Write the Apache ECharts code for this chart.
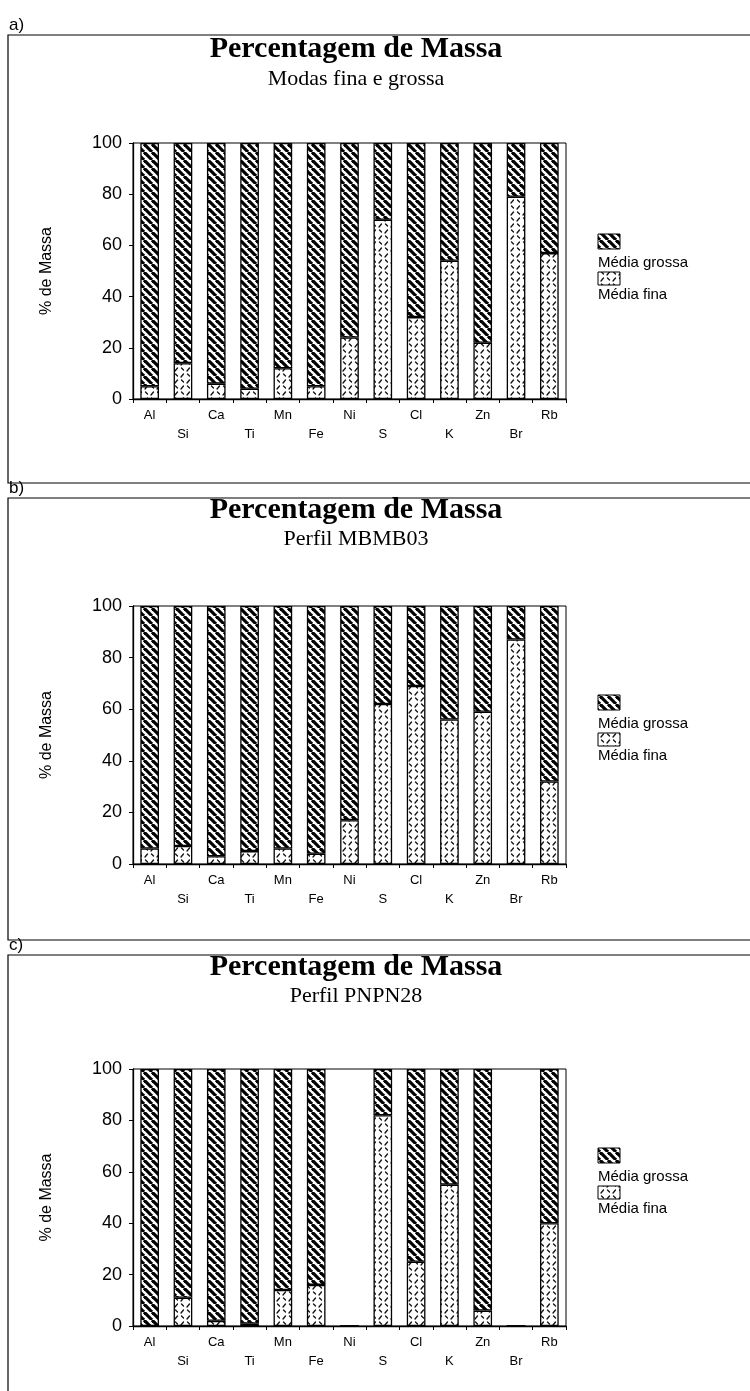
<!DOCTYPE html>
<html>
<head>
<meta charset="utf-8">
<script src="https://cdn.jsdelivr.net/npm/echarts@6/dist/echarts.min.js"></script>
<style>
  html, body { margin: 0; padding: 0; background: #fff; }
  #chart { width: 750px; height: 1391px; }
</style>
</head>
<body>
<div id="chart"></div>
<script>
// Elements on the x axis (same order in every panel)
const elements = ['Al', 'Si', 'Ca', 'Ti', 'Mn', 'Fe', 'Ni', 'S', 'Cl', 'K', 'Zn', 'Br', 'Rb'];
const yTicks = [0, 20, 40, 60, 80, 100];

// a) Modas fina e grossa — % of mass in each mode
const fineA   = [5, 14, 6, 4, 12, 5, 24, 70, 32, 54, 22, 79, 57];
const coarseA = [95, 86, 94, 96, 88, 95, 76, 30, 68, 46, 78, 21, 43];

// b) Perfil MBMB03
const fineB   = [6, 7, 3, 5, 6, 4, 17, 62, 69, 56, 59, 87, 32];
const coarseB = [94, 93, 97, 95, 94, 96, 83, 38, 31, 44, 41, 13, 68];

// c) Perfil PNPN28 (Ni and Br not measured)
const fineC   = [0, 11, 2, 1, 14, 16, 0, 82, 25, 55, 6, 0, 40];
const coarseC = [100, 89, 98, 99, 86, 84, 0, 18, 75, 45, 94, 0, 60];

const panelLetters = ['a)', 'b)', 'c)'];
const titleText = 'Percentagem de Massa';
const subtitles = ['Modas fina e grossa', 'Perfil MBMB03', 'Perfil PNPN28'];
const seriesNames = ['Média fina', 'Média grossa'];
const yAxisName = '% de Massa';

// ---- fill patterns ----
function stripeTile() {
  const s = 8;
  const c = document.createElement('canvas');
  c.width = s; c.height = s;
  const g = c.getContext('2d');
  g.fillStyle = '#fff'; g.fillRect(0, 0, s, s);
  g.strokeStyle = '#000'; g.lineWidth = 3.2; g.lineCap = 'butt';
  for (const o of [-s, 0, s]) {
    g.beginPath(); g.moveTo(o, 0); g.lineTo(o + s, s); g.stroke();
  }
  return c;
}
function speckleTile() {
  const s = 12;
  const c = document.createElement('canvas');
  c.width = s; c.height = s;
  const g = c.getContext('2d');
  g.fillStyle = '#fff'; g.fillRect(0, 0, s, s);
  g.strokeStyle = '#111'; g.lineWidth = 1.3; g.lineCap = 'round';
  const dash = (x1, y1, x2, y2) => { g.beginPath(); g.moveTo(x1, y1); g.lineTo(x2, y2); g.stroke(); };
  dash(1, 5, 3.5, 2);
  dash(7, 11, 9.5, 8);
  dash(7.5, 2, 9.5, 4);
  dash(1.5, 8, 3.5, 10);
  return c;
}
const coarseFill = { image: stripeTile(), repeat: 'repeat' };
const fineFill = { image: speckleTile(), repeat: 'repeat' };

// ---- layout of the three panels ----
const panels = [
  { fine: fineA, coarse: coarseA, boxTop: 35,  boxBottom: 483,  titleY: 49,  subY: 79,   plotTop: 143,  plotH: 256, legendY: 234 },
  { fine: fineB, coarse: coarseB, boxTop: 498, boxBottom: 940,  titleY: 510, subY: 539,  plotTop: 606,  plotH: 258, legendY: 695 },
  { fine: fineC, coarse: coarseC, boxTop: 955, boxBottom: 1420, titleY: 967, subY: 996,  plotTop: 1069, plotH: 257, legendY: 1148 }
];
const plotLeft = 133, plotWidth = 433, centerX = 356, legendX = 598;

const grid = [], xAxis = [], yAxis = [], series = [], graphic = [];
const black = '#000';
const sans = 'Liberation Sans, Arial, sans-serif';
const serif = 'Liberation Serif, Times New Roman, serif';

panels.forEach((p, i) => {
  grid.push({ left: plotLeft, top: p.plotTop, width: plotWidth, height: p.plotH,
              show: true, borderColor: black, borderWidth: 1, backgroundColor: 'transparent' });
  xAxis.push({
    type: 'category', gridIndex: i, data: elements,
    axisLine: { lineStyle: { color: black, width: 1.3 } },
    axisTick: { show: true, interval: 0, length: 4, lineStyle: { color: black } },
    axisLabel: {
      interval: 0, color: black, fontFamily: sans, fontSize: 13, lineHeight: 19, margin: 7,
      formatter: (v, idx) => (idx % 2 ? '\n' + v : v)
    }
  });
  yAxis.push({
    type: 'value', gridIndex: i, min: yTicks[0], max: yTicks[yTicks.length - 1], interval: 20,
    splitLine: { show: false },
    axisLine: { show: true, lineStyle: { color: black, width: 1.3 } },
    axisTick: { show: true, length: 4, lineStyle: { color: black } },
    axisLabel: { color: black, fontFamily: sans, fontSize: 18, margin: 11 },
    name: yAxisName, nameLocation: 'middle', nameRotate: 90, nameGap: 78,
    nameTextStyle: { color: black, fontFamily: sans, fontSize: 16 }
  });
  const common = { type: 'bar', xAxisIndex: i, yAxisIndex: i, stack: 'm' + i, barWidth: '56%',
                   silent: true, animation: false };
  series.push(Object.assign({}, common, {
    name: seriesNames[0], data: p.fine,
    itemStyle: { color: fineFill, borderColor: black, borderWidth: 1.3 }
  }));
  series.push(Object.assign({}, common, {
    name: seriesNames[1], data: p.coarse,
    itemStyle: { color: coarseFill, borderColor: black, borderWidth: 1.3 }
  }));

  // panel frame and letter
  graphic.push({ type: 'rect', silent: true, shape: { x: 8, y: p.boxTop, width: 760, height: p.boxBottom - p.boxTop },
                 style: { fill: 'none', stroke: black, lineWidth: 1.2 } });
  graphic.push({ type: 'text', silent: true, x: 9, y: p.boxTop - 1,
                 style: { text: panelLetters[i], fill: black, font: '17px ' + sans, textVerticalAlign: 'bottom' } });
  // titles
  graphic.push({ type: 'text', silent: true, x: centerX, y: p.titleY,
                 style: { text: titleText, fill: black, font: 'bold 30px ' + serif, textAlign: 'center', textVerticalAlign: 'middle' } });
  graphic.push({ type: 'text', silent: true, x: centerX, y: p.subY,
                 style: { text: subtitles[i], fill: black, font: '22px ' + serif, textAlign: 'center', textVerticalAlign: 'middle' } });
  // legend: swatch above each label
  graphic.push({ type: 'rect', silent: true, shape: { x: legendX, y: p.legendY, width: 22, height: 15 },
                 style: { fill: coarseFill, stroke: black, lineWidth: 1 } });
  graphic.push({ type: 'text', silent: true, x: legendX, y: p.legendY + 29,
                 style: { text: seriesNames[1], fill: black, font: '15px ' + sans, textVerticalAlign: 'middle' } });
  graphic.push({ type: 'rect', silent: true, shape: { x: legendX, y: p.legendY + 38, width: 22, height: 13 },
                 style: { fill: fineFill, stroke: black, lineWidth: 1 } });
  graphic.push({ type: 'text', silent: true, x: legendX, y: p.legendY + 61,
                 style: { text: seriesNames[0], fill: black, font: '15px ' + sans, textVerticalAlign: 'middle' } });
});

const chart = echarts.init(document.getElementById('chart'), null, { renderer: 'canvas' });
chart.setOption({
  animation: false,
  backgroundColor: '#fff',
  grid, xAxis, yAxis, series, graphic
});
</script>
</body>
</html>
